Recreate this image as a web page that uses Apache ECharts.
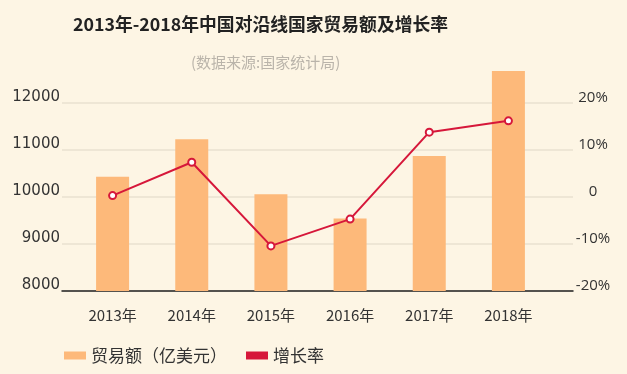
<!DOCTYPE html>
<html><head><meta charset="utf-8">
<script src="https://cdn.jsdelivr.net/npm/echarts@6/dist/echarts.min.js"></script>
<style>html,body{margin:0;padding:0;background:#fdf5e4;}#c{width:627px;height:374px;}</style>
</head><body><div id="c"></div>
<script>
const categories = ['2013年','2014年','2015年','2016年','2017年','2018年'];
const tradeValues = [10430, 11230, 10060, 9540, 10870, 12680];
const growthRates = [0.3, 7.4, -10.4, -4.7, 13.8, 16.2];
const leftTicks = [8000, 9000, 10000, 11000, 12000];
const rightTicks = [-20, -10, 0, 10, 20];

const FONT = '"Noto Sans CJK SC", "Noto Sans", sans-serif';
const chart = echarts.init(document.getElementById('c'));
chart.setOption({
  backgroundColor: '#fdf5e4',
  animation: false,
  textStyle: { fontFamily: FONT },
  title: [
    { text: '2013年-2018年中国对沿线国家贸易额及增长率', left: 68, top: 10,
      textStyle: { fontSize: 17.8, fontWeight: 'bold', color: '#222', fontFamily: FONT } },
    { text: '(数据来源:国家统计局)', left: 186, top: 50,
      textStyle: { fontSize: 15, fontWeight: 'normal', color: '#bab4aa', fontFamily: FONT } }
  ],
  legend: {
    left: 59, top: 342, itemWidth: 22, itemHeight: 8, itemGap: 19,
    textStyle: { fontSize: 17, color: '#333', fontFamily: FONT },
    data: [
      { name: '贸易额（亿美元）', icon: 'rect', itemStyle: { color: '#fdb97a', borderWidth: 0 } },
      { name: '增长率', icon: 'rect', itemStyle: { color: '#d6173a', borderWidth: 0 }, lineStyle: { width: 0 } }
    ]
  },
  grid: [
    { left: 73, right: 79, top: 56, bottom: 83 },
    { left: 62, right: 54, top: 103, bottom: 83 }
  ],
  xAxis: [
    { type: 'category', gridIndex: 0, data: categories,
      axisLine: { show: false }, axisTick: { show: false },
      axisLabel: { margin: 17, fontSize: 15, color: '#333', fontFamily: FONT } },
    { type: 'value', gridIndex: 1, min: 0, max: 1,
      axisLine: { show: true, onZero: false, lineStyle: { color: '#222', width: 1.5 } },
      axisTick: { show: false }, axisLabel: { show: false }, splitLine: { show: false } }
  ],
  yAxis: [
    { type: 'value', gridIndex: 0, min: 8000, max: 13000, show: false, splitLine: { show: false } },
    { type: 'value', gridIndex: 0, min: -20, max: 30, show: false, splitLine: { show: false } },
    { type: 'value', gridIndex: 1, position: 'left', min: leftTicks[0], max: leftTicks[leftTicks.length - 1], interval: 1000,
      axisLine: { show: false }, axisTick: { show: false },
      axisLabel: { margin: 2, fontSize: 15, color: '#333', verticalAlign: 'bottom', lineHeight: 12,
        fontFamily: '"DejaVu Sans", sans-serif', formatter: v => String(v) },
      splitLine: { show: true, lineStyle: { color: '#e9e1d1', width: 1.5 } } },
    { type: 'value', gridIndex: 1, position: 'right', min: rightTicks[0], max: rightTicks[rightTicks.length - 1], interval: 10,
      axisLine: { show: false }, axisTick: { show: false },
      axisLabel: { margin: 20, align: 'center', fontSize: 15, color: '#333', verticalAlign: 'bottom', lineHeight: 10,
        fontFamily: '"Open Sans", sans-serif',
        formatter: v => v === 0 ? '0' : v + '%' },
      splitLine: { show: false } }
  ],
  series: [
    { name: '贸易额（亿美元）', type: 'bar', xAxisIndex: 0, yAxisIndex: 0, data: tradeValues,
      barWidth: 33, itemStyle: { color: '#fdb97a' } },
    { name: '增长率', type: 'line', xAxisIndex: 0, yAxisIndex: 1, data: growthRates,
      symbol: 'circle', symbolSize: 7,
      lineStyle: { color: '#d6173a', width: 2 },
      itemStyle: { color: '#fff', borderColor: '#d6173a', borderWidth: 2 } }
  ]
});
</script></body></html>
